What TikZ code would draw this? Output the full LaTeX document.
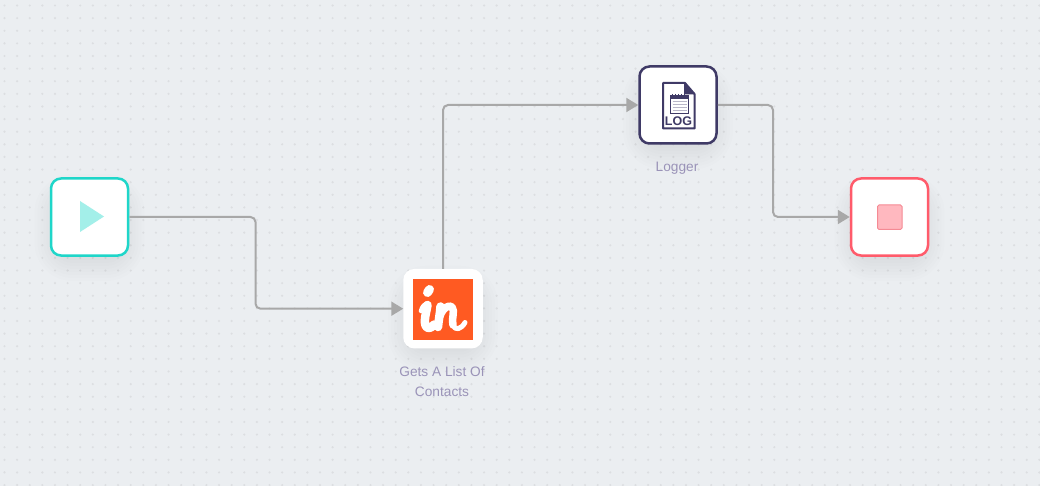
\documentclass[tikz,border=0pt]{standalone}
\usepackage{fontspec}
\setmainfont{Liberation Sans}
\usetikzlibrary{arrows.meta,backgrounds,calc}
\definecolor{canvasbg}{HTML}{EBEEF1}
\definecolor{griddot}{HTML}{DCDEE1}
\definecolor{linkgrey}{HTML}{A8A8A8}
\definecolor{startteal}{HTML}{1FD6C9}
\definecolor{playteal}{HTML}{A3EFE9}
\definecolor{stopred}{HTML}{FF5B6B}
\definecolor{stoppink}{HTML}{FFB8BF}
\definecolor{stopedge}{HTML}{F58A94}
\definecolor{logink}{HTML}{3F3A66}
\definecolor{logline}{HTML}{B9B7C8}
\definecolor{inorange}{HTML}{FF5A22}
\definecolor{labelgrey}{HTML}{9A93B8}
\tikzset{
  block/.style={draw=white,fill=white,line width=2.5pt,rounded corners=10pt,
    minimum size=77pt,inner sep=0pt},
  link/.style={draw=linkgrey,line width=2pt,rounded corners=5pt,
    -{Triangle[length=12pt,width=14pt]}},
  caption/.style={text=labelgrey,font=\fontsize{13.7}{20}\selectfont,align=center},
}
\newcommand{\softshadow}[1]{%
  \foreach \grow in {-14,-11,...,16}{
    \pgfmathsetmacro{\bend}{int(22+\grow)}
    \fill[black,opacity=.009,rounded corners=\bend pt]
      ($(#1)+(-39-\grow,-27-\grow)$) rectangle ($(#1)+(39+\grow,48+\grow)$);
  }}
\begin{document}
\begin{tikzpicture}[x=1pt,y=-1pt]
  \useasboundingbox (0,0) rectangle (1040,486);
  % blocks
  \node[block,draw=startteal] (start) at (89.5,217) {};
  \node[block] (contacts) at (443,308.7) {};
  \node[block,draw=logink] (logger) at (678,105) {};
  \node[block,draw=stopred] (stop) at (889.5,217) {};
  % labels
  \node[caption,anchor=north] (contactslabel) at (442,363) {Gets A List Of\\Contacts};
  \node[caption,anchor=north] (loggerlabel) at (677,159) {Logger};
  % bends
  \coordinate (bendone) at (255.5,263);
  \coordinate (bendtwo) at (773,161);
  % links
  \draw[link] (start.east) -| (bendone) |- (contacts.west);
  \draw[link] (contacts.north) |- (logger.west);
  \draw[link] (logger.east) -| (bendtwo) |- (stop.west);
  % play icon
  \fill[playteal] (80,201) -- (104,216.5) -- (80,232) -- cycle;
  % stop icon
  \draw[stopedge,fill=stoppink,line width=1pt,rounded corners=1.5pt] (877.5,205) rectangle (902,229.5);
  % in icon
  \fill[inorange] (413,279) rectangle (473,340);
  \begin{scope}[white,line cap=round,line join=round]
    \draw[line width=9pt] (429.5,289.5) -- (427.5,292.5);
    \draw[line width=4.5pt] (421,311) .. controls (422,306.5) and (425,303.5) .. (428,303.5);
    \draw[line width=8.5pt] (427.5,305) .. controls (426,314) and (423.5,321) .. (425.5,325.5)
      .. controls (427,329.5) and (431.5,328.5) .. (434,324.5);
    \draw[line width=8.5pt] (440.5,306.5) .. controls (440,314) and (438.5,321) .. (438,327);
    \draw[line width=7.5pt] (440,316) .. controls (443,308) and (449,304) .. (452,307)
      .. controls (455.5,311) and (451,319) .. (453,325);
    \draw[line width=5pt] (453,325) .. controls (455,331) and (461,329.5) .. (465,322.5);
  \end{scope}
  % log icon
  \draw[logink,fill=white,line width=2pt,line join=round] (663,83) -- (685,83) -- (694.5,94) -- (694.5,128.5) -- (663,128.5) -- cycle;
  \fill[logink] (684,82.5) -- (695,94.5) -- (684,94.5) -- cycle;
  \draw[logink,fill=white,line width=1pt] (670.5,96) rectangle (688.5,114);
  \fill[logink] (670.5,96) rectangle (688.5,99);
  \foreach \tick in {672.5,675.5,...,687}{
    \draw[logink,line width=.8pt] (\tick,94) -- (\tick,97);
  }
  \foreach \row in {102,105,108,111}{
    \draw[logline,line width=1pt] (672.5,\row) -- (686.5,\row);
  }
  \node[text=logink,font=\fontsize{12.5}{13}\bfseries\selectfont,inner sep=0pt] (logtext) at (678.5,121.5) {LOG};
  % background
  \begin{scope}[on background layer]
    \fill[canvasbg] (0,0) rectangle (1040,486);
    \foreach \col in {0,...,82}{
      \foreach \row in {0,...,38}{
        \fill[griddot] ({4.5+12.62*\col},{5.5+12.62*\row}) circle (1.2);
      }
    }
    \softshadow{start}
    \softshadow{contacts}
    \softshadow{logger}
    \softshadow{stop}
  \end{scope}
\end{tikzpicture}
\end{document}
